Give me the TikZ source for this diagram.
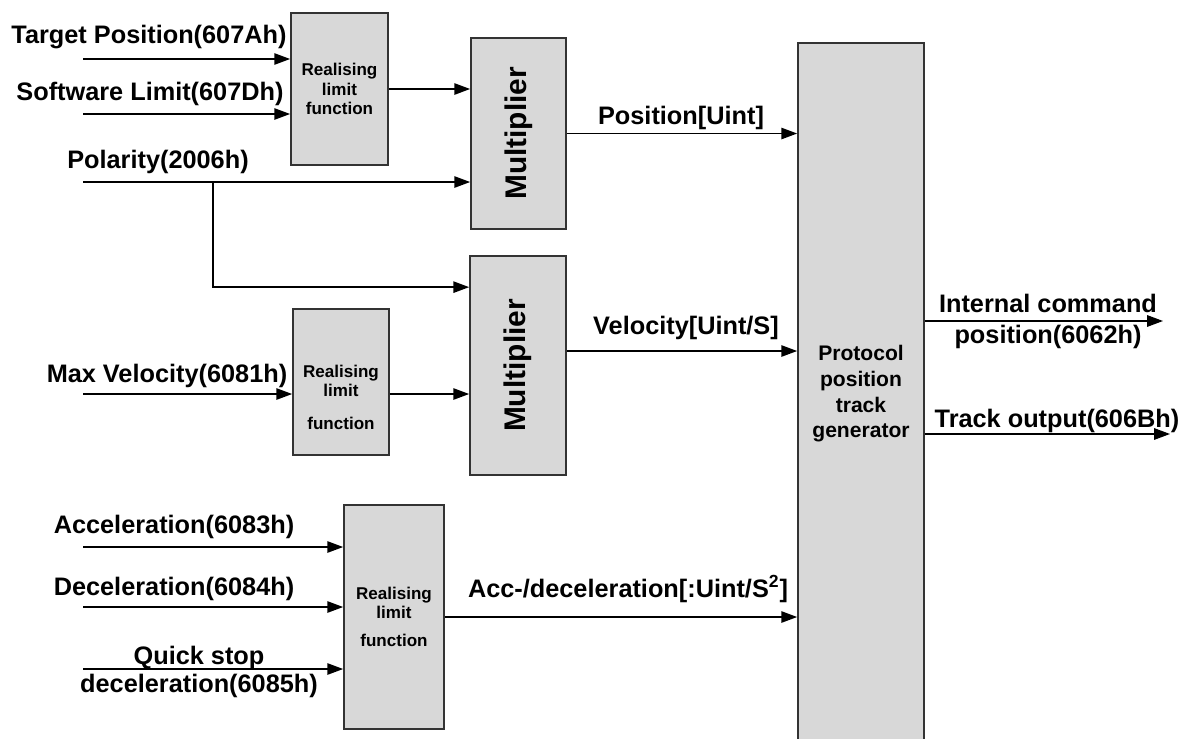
\documentclass[tikz,border=0pt]{standalone}
\usepackage{fontspec}
\usepackage{graphicx}
\setmainfont{Liberation Sans}
\usetikzlibrary{arrows.meta}
\definecolor{boxgray}{RGB}{216,216,216}
\definecolor{edgegray}{RGB}{51,51,51}

\begin{document}
\begin{tikzpicture}[x=0.02cm,y=-0.02cm,
  blk/.style={draw=edgegray,fill=boxgray,line width=1pt,inner sep=0pt},
  sig/.style={-{Triangle[length=9pt,width=6.5pt]},line width=0.8pt},
  lbl/.style={font=\fontsize{14.4}{17.6}\selectfont\bfseries,inner sep=0pt,align=center},
  limtext/.style={font=\fontsize{9.7}{11}\selectfont\bfseries,align=center}]
\useasboundingbox (0,0) rectangle (1181,738);
\clip (0,0) rectangle (1181,738);

% blocks
\node[blk,limtext,minimum width=1.94cm,minimum height=3.04cm] (rl1) at (339.5,89) {Realising\\limit\\function};
\node[blk,minimum width=1.92cm,minimum height=2.92cm] (rl2) at (341,382) {};
\node[limtext,inner sep=0pt] (rl2t) at (341,397) {Realising\\limit\\[7.5pt]function};
\node[blk,limtext,minimum width=2cm,minimum height=4.48cm] (rl3) at (394,617) {Realising\\limit\\[5pt]function};
\node[blk,font=\fontsize{17}{20}\selectfont\bfseries,minimum width=1.9cm,minimum height=3.82cm] (m1) at (518.5,133.5) {\rotatebox{90}{Multiplier}};
\node[blk,font=\fontsize{17}{20}\selectfont\bfseries,minimum width=1.92cm,minimum height=4.38cm] (m2) at (518,365.5) {\rotatebox{90}{Multiplier}};
\node[blk,font=\fontsize{12}{14.6}\selectfont\bfseries,align=center,minimum width=2.52cm,minimum height=14.04cm] (pr) at (861,394) {Protocol\\position\\track\\generator};

% input labels
\node[lbl,anchor=base] (tpl) at (149,43) {Target Position(607Ah)};
\node[lbl,anchor=base] (swl) at (150,100) {Software Limit(607Dh)};
\node[lbl,anchor=base] (pol) at (158,168) {Polarity(2006h)};
\node[lbl,anchor=base] (mvl) at (167,382) {Max Velocity(6081h)};
\node[lbl,anchor=base] (acl) at (174,533) {Acceleration(6083h)};
\node[lbl,anchor=base] (dcl) at (174,595) {Deceleration(6084h)};
\node[lbl] (qsl) at (199,672) {Quick stop\\[-1.7pt]deceleration(6085h)};

% output labels
\node[lbl,anchor=base] (posl) at (681,124) {Position[Uint]};
\node[lbl,anchor=base] (vell) at (686,334) {Velocity[Uint/S]};
\node[lbl,anchor=base] (accl) at (628,597) {Acc-/deceleration[:Uint/S\textsuperscript{2}]};
\node[lbl] (icl) at (1048,321) {Internal command\\position(6062h)};
\node[lbl,anchor=base] (trl) at (1057,427) {Track output(606Bh)};

% signal ends
\coordinate (tpin) at (83,59);
\coordinate (swin) at (83,114);
\coordinate (plin) at (83,182);
\coordinate (plbr) at (213,182);
\coordinate (mvin) at (83,394);
\coordinate (acin) at (83,547);
\coordinate (dcin) at (83,607);
\coordinate (qsin) at (83,669);
\coordinate (vel) at (566,351);
\coordinate (icout) at (1163,321);
\coordinate (trout) at (1170,434);

% connectors
\draw[sig] (tpin) -- (tpin -| rl1.west);
\draw[sig] (swin) -- (swin -| rl1.west);
\draw[sig] (plin) -- (plin -| m1.west);
\draw[sig] (plbr) |- ([yshift=-0.64cm]m2.north west);
\draw[sig] (rl1.east) -- (rl1.east -| m1.west);
\draw[sig] (mvin) -- (mvin -| rl2.west);
\draw[sig] (rl2.east |- mvin) -- (mvin -| m2.west);
\draw[sig] (acin) -- (acin -| rl3.west);
\draw[sig] (dcin) -- (dcin -| rl3.west);
\draw[sig] (qsin) -- (qsin -| rl3.west);
\draw[sig] (m1.east) -- (m1.east -| pr.west);
\draw[sig] (m2.east |- vel) -- (vel -| pr.west);
\draw[sig] (rl3.east) -- (rl3.east -| pr.west);
\draw[sig] (pr.east |- icout) -- (icout);
\draw[sig] (pr.east |- trout) -- (trout);
\end{tikzpicture}
\end{document}
